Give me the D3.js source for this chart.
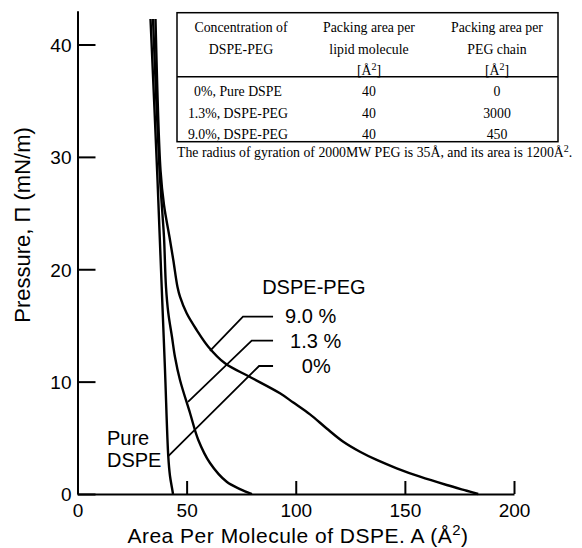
<!DOCTYPE html>
<html>
<head>
<meta charset="utf-8">
<script src="https://cdn.jsdelivr.net/npm/d3@7"></script>
<style>
  html, body { margin: 0; padding: 0; background: #fff; }
  svg { display: block; }
</style>
</head>
<body>
<svg id="chart" width="582" height="548"></svg>
<script>
// ---------- data ----------
const xTicks = [0, 50, 100, 150, 200];
const yTicks = [0, 10, 20, 30, 40];

// isotherms: [area (Å²), pressure (mN/m)]
const pureDSPE = [
  [33.45, 42.27], [36.66, 27.94], [38.58, 18.42], [40.09, 11.03],
  [41.60, 3.32], [42.38, 1.60], [43.30, 0.53], [43.76, 0]
];
const peg13 = [
  [34.59, 42.27], [37.57, 28.83], [38.95, 24.83], [39.63, 22.87], [40.55, 18.42],
  [41.60, 16.11], [43.30, 13.97], [44.67, 12.19], [46.96, 10.14], [51.55, 7.21],
  [55.35, 4.81], [60.71, 2.76], [68.36, 1.09], [74.45, 0.44], [79.95, 0]
];
const peg90 = [
  [35.74, 42.27], [38.03, 28.83], [39.63, 25.72], [42.15, 22.87], [43.89, 20.82],
  [45.82, 18.42], [46.96, 17.56], [50.03, 16.08], [54.62, 14.59], [59.93, 13.11],
  [67.58, 11.63], [79.04, 10.41], [92.78, 8.96], [98.88, 8.14], [106.53, 7.09],
  [114.18, 5.83], [121.79, 4.65], [129.44, 3.76], [137.09, 3.03], [146.25, 2.29],
  [156.93, 1.54], [169.16, 0.80], [178.33, 0.29], [183.6, 0]
];

// leader lines from labels to curves
const leader90 = [[60.71, 12.73], [75.82, 15.78], [89.6, 15.78]];
const leader13 = [[50.63, 8.19], [79.82, 13.64], [89.6, 13.64]];
const leader0  = [[41.60, 3.38], [83.2, 11.39], [89.6, 11.39]];

const curveLabels = [
  { text: "DSPE-PEG", x: 108.3, y: 17.8, anchor: "middle" },
  { text: "9.0 %", x: 95.1, y: 15.19, anchor: "start" },
  { text: "1.3 %", x: 97.4, y: 12.97, anchor: "start" },
  { text: "0%", x: 102.8, y: 10.79, anchor: "start" },
  { text: "Pure", x: 13.5, y: 4.36, anchor: "start" },
  { text: "DSPE", x: 13.5, y: 2.38, anchor: "start" }
];

// inset table
const tableHeader = [
  ["Concentration of", "DSPE-PEG", ""],
  ["Packing area per", "lipid molecule", "[Å²]"],
  ["Packing area per", "PEG chain", "[Å²]"]
];
const tableRows = [
  ["0%, Pure DSPE", "40", "0"],
  ["1.3%, DSPE-PEG", "40", "3000"],
  ["9.0%, DSPE-PEG", "40", "450"]
];
const footnote = "The radius of gyration of 2000MW PEG is 35Å, and its area is 1200Å².";

// ---------- drawing ----------
const svg = d3.select("#chart");
const SANS = "'Liberation Sans', Arial, Helvetica, sans-serif";
const SERIF = "'Liberation Serif', 'Times New Roman', serif";

const x = d3.scaleLinear().domain([0, 200]).range([77.5, 514]);
const y = d3.scaleLinear().domain([0, 43]).range([494, 10.8]);

// axes
const xAxis = d3.axisBottom(x).tickValues(xTicks).tickSizeInner(-13).tickSizeOuter(0).tickPadding(10);
const yAxis = d3.axisLeft(y).tickValues(yTicks).tickSizeInner(-18).tickSizeOuter(0).tickPadding(6);

const gx = svg.append("g").attr("transform", `translate(0,${y(0)})`).call(xAxis);
const gy = svg.append("g").attr("transform", `translate(${x(0)},0)`).call(yAxis);
[gx, gy].forEach(g => {
  g.select(".domain").attr("stroke", "#000").attr("stroke-width", 2);
  g.selectAll(".tick line").attr("stroke", "#000").attr("stroke-width", 2);
  g.selectAll(".tick text").attr("fill", "#000").attr("font-size", 19).attr("font-family", SANS);
});
gy.selectAll(".tick text").attr("dy", "0.36em");

// axis titles
const xt = svg.append("text")
  .attr("x", 298).attr("y", 543)
  .attr("text-anchor", "middle")
  .attr("font-family", SANS).attr("font-size", 21)
  .attr("letter-spacing", 0.5);
xt.append("tspan").text("Area Per Molecule of DSPE. A (Å");
xt.append("tspan").attr("font-size", 15).attr("dy", -8).text("2");
xt.append("tspan").attr("dy", 8).text(")");

svg.append("text")
  .attr("transform", "translate(30,225) rotate(-90)")
  .attr("text-anchor", "middle")
  .attr("font-family", SANS).attr("font-size", 22)
  .text("Pressure, Π (mN/m)");

// curves
const line = d3.line().x(d => x(d[0])).y(d => y(d[1])).curve(d3.curveCatmullRom.alpha(0.5));
[pureDSPE, peg13, peg90].forEach(s => {
  svg.append("path").attr("d", line(s))
    .attr("fill", "none").attr("stroke", "#000").attr("stroke-width", 2.4)
    .attr("stroke-linejoin", "round");
});

const lineStraight = d3.line().x(d => x(d[0])).y(d => y(d[1]));
[leader90, leader13, leader0].forEach(s => {
  svg.append("path").attr("d", lineStraight(s))
    .attr("fill", "none").attr("stroke", "#000").attr("stroke-width", 1.8);
});

svg.append("g").selectAll("text").data(curveLabels).join("text")
  .attr("x", d => x(d.x)).attr("y", d => y(d.y))
  .attr("text-anchor", d => d.anchor)
  .attr("font-family", SANS).attr("font-size", 20)
  .text(d => d.text);

// inset table
const tbl = { left: 177, right: 558, top: 12.7, sep: 76.7, bottom: 141.7 };
const colX = [241, 369, 497];
const TFS = 13.8;
const tg = svg.append("g").attr("font-family", SERIF).attr("font-size", TFS).attr("text-anchor", "middle");
tg.append("rect")
  .attr("x", tbl.left).attr("y", tbl.top)
  .attr("width", tbl.right - tbl.left).attr("height", tbl.bottom - tbl.top)
  .attr("fill", "none").attr("stroke", "#000").attr("stroke-width", 1.5);
tg.append("line")
  .attr("x1", tbl.left).attr("x2", tbl.right).attr("y1", tbl.sep).attr("y2", tbl.sep)
  .attr("stroke", "#000").attr("stroke-width", 1.5);

// writes text where "²" becomes a raised small "2"
function superText(sel, str, supSize, shift) {
  const parts = str.split("²");
  let pending = 0;
  parts.forEach((p, i) => {
    if (p) {
      const t = sel.append("tspan").text(p);
      if (pending) { t.attr("dy", pending); pending = 0; }
    }
    if (i < parts.length - 1) {
      sel.append("tspan").attr("font-size", supSize).attr("dy", -shift).text("2");
      pending = shift;
    }
  });
}

const headerY = [31.5, 53.5, 74.5];
tableHeader.forEach((col, ci) => {
  col.forEach((t, ri) => {
    if (!t) return;
    const tx = tg.append("text").attr("x", colX[ci]).attr("y", headerY[ri]);
    superText(tx, t, 10, 5);
  });
});
const rowY = [96, 117.5, 138.5];
tableRows.forEach((row, ri) => {
  row.forEach((t, ci) => {
    tg.append("text").attr("x", colX[ci] + (ci === 0 ? -3 : 0)).attr("y", rowY[ri]).text(t);
  });
});
const fn = svg.append("text").attr("x", 177).attr("y", 157)
  .attr("font-family", SERIF).attr("font-size", TFS);
superText(fn, footnote, 10, 5);
</script>
</body>
</html>
